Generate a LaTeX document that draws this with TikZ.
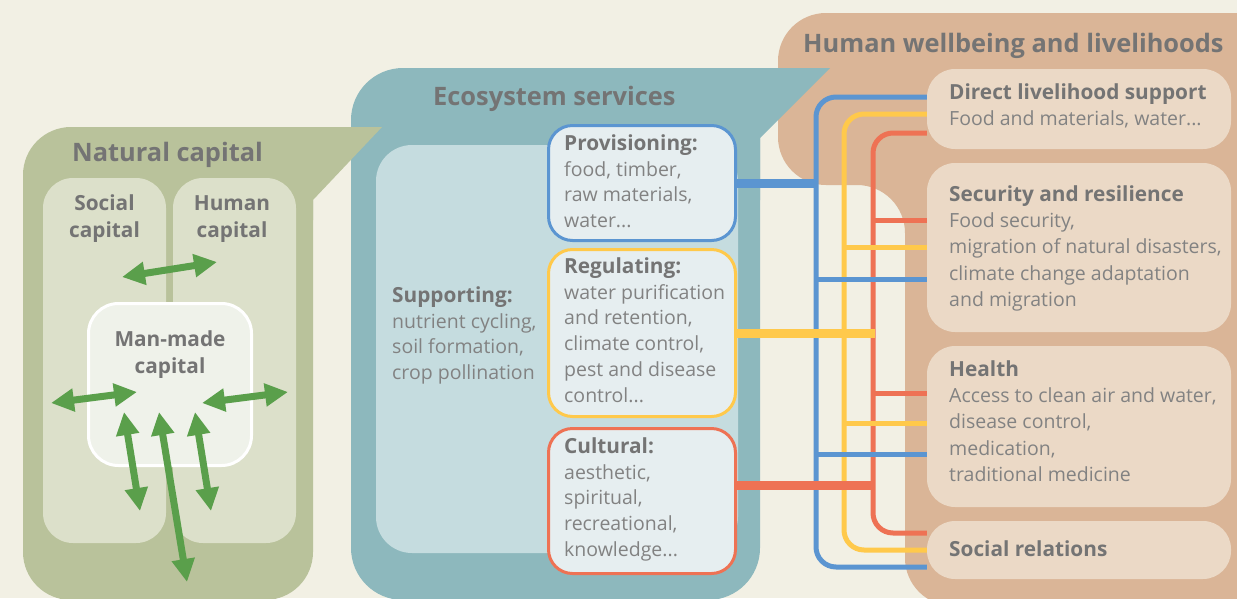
\documentclass[tikz,border=0pt]{standalone}
\usepackage{fontspec}
\setmainfont{Open Sans}
\usetikzlibrary{arrows.meta}
\definecolor{bgc}{HTML}{F2F0E4}
\definecolor{olive}{HTML}{B9C29B}
\definecolor{olivein}{HTML}{DCE0CA}
\definecolor{manfill}{HTML}{EFF2EA}
\definecolor{agreen}{HTML}{5A9F4B}
\definecolor{tealc}{HTML}{8DB8BD}
\definecolor{tealin}{HTML}{C5DCDF}
\definecolor{sfill}{HTML}{E6EEF0}
\definecolor{bluec}{HTML}{5B95D1}
\definecolor{yellc}{HTML}{FFC94B}
\definecolor{orac}{HTML}{EE7254}
\definecolor{tanc}{HTML}{DAB597}
\definecolor{tanin}{HTML}{EBD9C6}
\definecolor{tgray}{HTML}{747474}
\definecolor{bgray}{HTML}{828282}
\newcommand\bigfont{\fontsize{25.4}{30}\selectfont\bfseries}
\newcommand\capfont{\fontsize{20.8}{27}\selectfont\bfseries}
\newcommand\subfont{\fontsize{20.8}{25.8}\selectfont\bfseries}
\newcommand\svcfont{\fontsize{19.5}{25.8}\selectfont}
\newcommand\outfont{\fontsize{19.5}{26.3}\selectfont}
\tikzset{
  bigtitle/.style={font=\bigfont, text=tgray, anchor=base west, inner sep=0pt},
  captext/.style={font=\capfont, text=tgray, anchor=north, align=center, inner sep=0pt},
  svctext/.style={font=\svcfont, text=bgray, anchor=north west, align=left, inner sep=0pt},
  outtext/.style={font=\outfont, text=bgray, anchor=north west, align=left, inner sep=0pt},
  svcbox/.style={draw=#1, line width=3pt, fill=sfill, rounded corners=24pt, minimum width=187pt, inner sep=0pt},
  outbox/.style={fill=tanin, rounded corners=28pt, minimum width=304pt, inner sep=0pt},
  garrow/.style={draw=agreen, line width=7pt, {Triangle[width=22pt,length=23pt]}-{Triangle[width=22pt,length=23pt]}},
  thinline/.style={draw=#1, line width=5pt, rounded corners=20pt},
  thickline/.style={draw=#1, line width=9pt},
}
\newcommand\sub[1]{{\color{tgray}\subfont #1}}
\begin{document}
\begin{tikzpicture}[x=1pt,y=-1pt]
\useasboundingbox (0,0) rectangle (1237,598);
\fill[bgc] (0,0) rectangle (1237,598);
\begin{scope}
\clip (0,0) rectangle (1237,598);
% Human wellbeing panel
\fill[tanc, rounded corners=48pt] (778,185) -- (778,13) -- (1280,13) -- (1280,606) -- (905,606) -- (905,185) -- cycle;
\node[bigtitle] (thum) at (803,52) {Human wellbeing and livelihoods};
\node[outbox, minimum height=80pt] (dls) at (1079,109) {};
\node[outbox, minimum height=169pt] (sec) at (1079,247.5) {};
\node[outbox, minimum height=161pt] (hea) at (1079,426.5) {};
\node[outbox, minimum height=58pt] (soc) at (1079,550) {};
\node[outtext] (tdls) at (949,80.6) {\strut\sub{Direct livelihood support}\\Food and materials, water...};
\node[outtext] (tsec) at (949,182.6) {\strut\sub{Security and resilience}\\Food security,\\migration of natural disasters,\\climate change adaptation\\and migration};
\node[outtext] (thea) at (949,357.6) {\strut\sub{Health}\\Access to clean air and water,\\disease control,\\medication,\\traditional medicine};
\node[outtext, anchor=base west] (tsoc) at (949,556) {\sub{Social relations}};
% Ecosystem services panel
\fill[tealc, rounded corners=52pt] (351,68) rectangle (760,600);
\fill[tealc] (700,68) -- (830,68) -- (760,138) -- (760,200) -- (700,200) -- cycle;
\fill[tealin, rounded corners=36pt] (376,145) rectangle (738,553);
\node[bigtitle] (teco) at (433,105) {Ecosystem services};
\node[svcbox=bluec, minimum height=115pt] (prov) at (642,183) {};
\node[svcbox=yellc, minimum height=167pt] (reg) at (642,333) {};
\node[svcbox=orac, minimum height=145pt] (cult) at (642,501) {};
\node[svctext] (tprov) at (564,132) {\strut\sub{Provisioning:}\\food, timber,\\raw materials,\\water...};
\node[svctext] (treg) at (564,255) {\strut\sub{Regulating:}\\water purification\\and retention,\\climate control,\\pest and disease\\control...};
\node[svctext] (tcult) at (564,435) {\strut\sub{Cultural:}\\aesthetic,\\spiritual,\\recreational,\\knowledge...};
\node[svctext] (tsup) at (392,284) {\strut\sub{Supporting:}\\nutrient cycling,\\soil formation,\\crop pollination};
% Natural capital panel
\fill[olive, rounded corners=48pt] (23,127) rectangle (313,600);
\fill[olive] (260,127) -- (382,127) -- (313,200) -- (313,220) -- (260,220) -- cycle;
\fill[olivein, rounded corners=30pt] (43,178) rectangle (166,543);
\fill[olivein, rounded corners=30pt] (173,178) rectangle (296,543);
\node[bigtitle] (tnat) at (72,161) {Natural capital};
\node[captext] (tsoccap) at (104.5,191.1) {\strut Social\\capital};
\node[captext] (thumcap) at (232,191.1) {\strut Human\\capital};
\node[draw=white, line width=3pt, fill=manfill, rounded corners=30pt, minimum width=163pt, minimum height=162pt, inner sep=0pt] (man) at (170,384.5) {};
\node[captext] (tman) at (170,327.1) {\strut Man-made\\capital};
% green arrows
\coordinate (a1) at (122,277); \coordinate (a2) at (217,262);
\coordinate (b1) at (51,403);  \coordinate (b2) at (137,392);
\coordinate (c1) at (202,403); \coordinate (c2) at (288,392);
\coordinate (d1) at (124,412); \coordinate (d2) at (140,511);
\coordinate (e1) at (159,412); \coordinate (e2) at (187,582);
\coordinate (f1) at (195,412); \coordinate (f2) at (211,511);
\draw[garrow] (a1) -- (a2);
\draw[garrow] (b1) -- (b2);
\draw[garrow] (c1) -- (c2);
\draw[garrow] (d1) -- (d2);
\draw[garrow] (e1) -- (e2);
\draw[garrow] (f1) -- (f2);
% connectors: trunks
\coordinate (bx) at (816,0);
\coordinate (yx) at (844,0);
\coordinate (ox) at (873,0);
\draw[thinline=bluec] (dls.west |- 0,97) -- (bx |- 0,97) -- (bx |- 0,567) -- (soc.west |- 0,567);
\draw[thinline=yellc] (dls.west |- 0,114) -- (yx |- 0,114) -- (yx |- 0,550) -- (soc.west |- 0,550);
\draw[thinline=orac] (dls.west |- 0,133) -- (ox |- 0,133) -- (ox |- 0,533) -- (soc.west |- 0,533);
% branches
\draw[thinline=orac] (ox |- 0,220) -- (sec.west |- 0,220);
\draw[thinline=orac] (ox |- 0,393) -- (hea.west |- 0,393);
\draw[thinline=yellc] (yx |- 0,247) -- (sec.west |- 0,247);
\draw[thinline=yellc] (yx |- 0,423) -- (hea.west |- 0,423);
\draw[thinline=bluec] (bx |- 0,279) -- (sec.west |- 0,279);
\draw[thinline=bluec] (bx |- 0,454) -- (hea.west |- 0,454);
% thick links from services
\draw[thickline=bluec] (prov.east) -- (prov.east -| bx);
\draw[thickline=yellc] (reg.east) -- ([xshift=2pt]reg.east -| ox);
\draw[thickline=orac] (cult.east |- 0,485) -- (ox |- 0,485);
\end{scope}
\end{tikzpicture}
\end{document}
